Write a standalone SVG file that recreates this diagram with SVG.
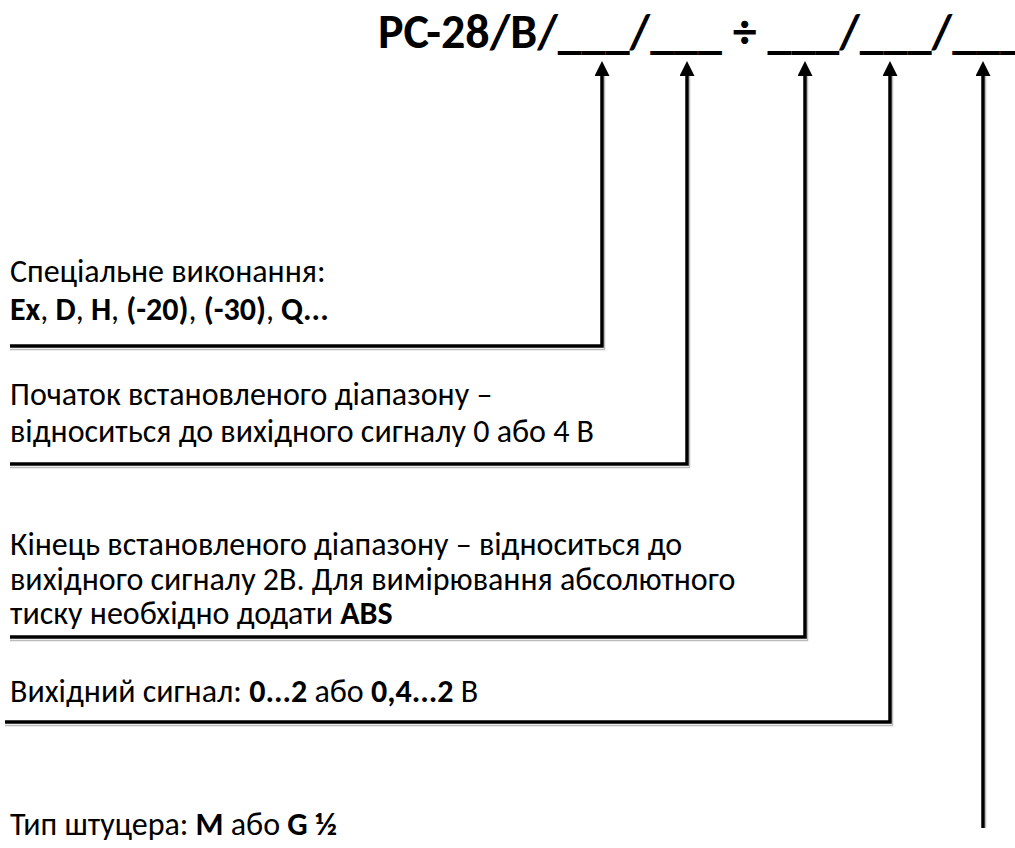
<svg xmlns="http://www.w3.org/2000/svg" width="1015" height="848" viewBox="0 0 1015 848">
<defs>
<marker id="ah" viewBox="0 0 15 15" markerWidth="15" markerHeight="15" markerUnits="userSpaceOnUse" refX="1" refY="7.5" orient="auto">
<path d="M0,0 L15,7.5 L0,15 z" fill="#000"/>
</marker>
</defs>
<style>
text{font-family:Carlito,"Open Sans","Liberation Sans",sans-serif;fill:#000}
.t{font-size:48px;font-weight:bold}
.l{font-size:32px}
.b{font-weight:bold}
.c{fill:none;stroke:#000;stroke-width:3.5;stroke-linejoin:miter}
.s{fill:none;stroke:#bbb;stroke-width:1.5}
</style>
<rect width="1015" height="848" fill="#fff"/>
<g id="title">
<text class="t" x="378" y="48">PC-28/B/___/___ ÷ ___/___/___</text>
</g>
<g id="connectors">
<path class="s" d="M10,349.5 H604.5 V76"/>
<path class="c" d="M10,346 H602 V75" marker-end="url(#ah)"/>
<path class="s" d="M10,467.5 H689.5 V76"/>
<path class="c" d="M10,464 H687 V75" marker-end="url(#ah)"/>
<path class="s" d="M10,640.5 H807.5 V76"/>
<path class="c" d="M10,637 H805 V75" marker-end="url(#ah)"/>
<path class="s" d="M5,725.5 H892.5 V76"/>
<path class="c" d="M5,722 H890 V75" marker-end="url(#ah)"/>
<path class="s" d="M985.5,828 V76"/>
<path class="c" d="M983,828 V75" marker-end="url(#ah)"/>
</g>
<g id="n1">
<text class="l" x="10" y="282">Спеціальне виконання:</text>
<text class="l" x="10" y="320"><tspan class="b">Ex</tspan>, <tspan class="b">D</tspan>, <tspan class="b">H</tspan>, <tspan class="b">(-20)</tspan>, <tspan class="b">(-30)</tspan>, <tspan class="b">Q...</tspan></text>
</g>
<g id="n2">
<text class="l" x="10" y="405">Початок встановленого діапазону –</text>
<text class="l" x="10" y="442">відноситься до вихідного сигналу 0 або 4 В</text>
</g>
<g id="n3">
<text class="l" x="10" y="555">Кінець встановленого діапазону – відноситься до</text>
<text class="l" x="10" y="590">вихідного сигналу 2В. Для вимірювання абсолютного</text>
<text class="l" x="10" y="624">тиску необхідно додати <tspan class="b">ABS</tspan></text>
</g>
<g id="n4">
<text class="l" x="10" y="702">Вихідний сигнал: <tspan class="b">0...2</tspan> або <tspan class="b">0,4...2</tspan> В</text>
</g>
<g id="n5">
<text class="l" x="10" y="835">Тип штуцера: <tspan class="b">M</tspan> або <tspan class="b">G ½</tspan></text>
</g>
</svg>
